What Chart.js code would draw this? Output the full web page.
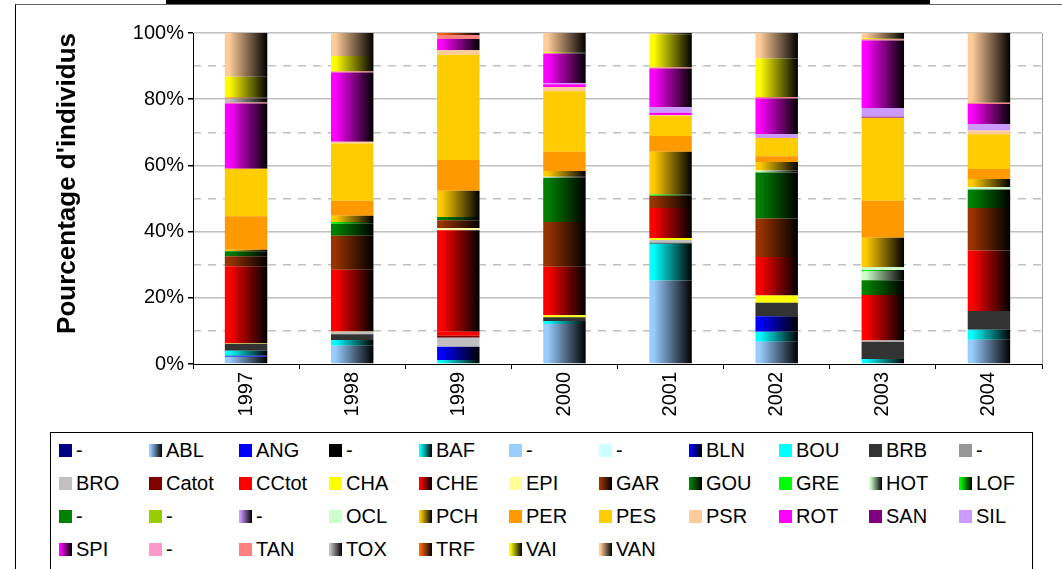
<!DOCTYPE html>
<html>
<head>
<meta charset="utf-8">
<script src="https://cdn.jsdelivr.net/npm/chart.js@4"></script>
<style>
  body { margin: 0; background: #fff; font-family: "Liberation Sans", Arial, sans-serif; }
  #wrap { position: relative; width: 1062px; height: 569px; overflow: hidden; }
  #frame { position: absolute; left: 15px; top: 4px; right: -2px; bottom: -2px; border-left: 1px solid #000; border-top: 1px solid #666; }
  #topbar { position: absolute; left: 166px; top: 0; width: 764px; height: 4px; background: #000; }
  canvas { position: absolute; left: 0; top: 0; }
  #legend { position: absolute; left: 50px; top: 432px; width: 983px; height: 150px; border: 1px solid #000; background: #fff;
            display: grid; grid-template-columns: repeat(11, 90px); grid-auto-rows: 33px; padding: 1px 0 0 8px; box-sizing: border-box; }
  .item { display: flex; align-items: center; font-size: 20px; color: #000; white-space: nowrap; }
  .sw { width: 13px; height: 13px; margin-right: 4px; flex: none; }
</style>
</head>
<body>
<div id="wrap">
  <div id="frame"></div>
  <div id="topbar"></div>
  <canvas id="chart" width="1062" height="569"></canvas>
  <div id="legend"></div>
</div>
<script>
const years = ["1997", "1998", "1999", "2000", "2001", "2002", "2003", "2004"];

const seriesNames = [
  "-", "ABL", "ANG", "-", "BAF", "-", "-", "BLN", "BOU", "BRB",
  "-", "BRO", "Catot", "CCtot", "CHA", "CHE", "EPI", "GAR", "GOU", "GRE",
  "HOT", "LOF", "-", "-", "-", "OCL", "PCH", "PER", "PES", "PSR",
  "ROT", "SAN", "SIL", "SPI", "-", "TAN", "TOX", "TRF", "VAI", "VAN"
];

const seriesColors = [
  "#000080", "#99CCFF", "#0000FF", "#000000", "#00FFFF", "#99CCFF", "#CCFFFF", "#0000FF", "#00FFFF", "#333333",
  "#969696", "#C0C0C0", "#800000", "#FF0000", "#FFFF00", "#FF0000", "#FFFF99", "#993300", "#008000", "#00FF00",
  "#CCFFCC", "#00FF00", "#008000", "#99CC00", "#CC99FF", "#CCFFCC", "#FFCC00", "#FF9900", "#FFCC00", "#FFCC99",
  "#FF00FF", "#800080", "#CC99FF", "#FF00FF", "#FF99CC", "#FF8080", "#C0C0C0", "#FF6600", "#FFFF00", "#FFCC99"
];

// series drawn with a colour-to-black shading (index into seriesNames)
const shadedIdx = [1, 4, 7, 15, 17, 18, 20, 21, 24, 26, 33, 36, 37, 38, 39];

// percentages per year, in the order of seriesNames
const pct1997 = [0, 2.2, 0.3, 0, 1.5, 0, 0, 0, 0, 2.1,
                 0, 0, 0, 0, 0.2, 23.2, 0, 3.0, 1.5, 0,
                 0, 0, 0, 0, 0, 0, 0.5, 10.1, 14.3, 0,
                 0, 0, 0, 19.7, 0, 0.3, 1.2, 0.3, 6.3, 13.2];
const pct1998 = [0, 5.5, 0, 0, 1.7, 0, 0, 0, 0, 1.8,
                 0, 0.7, 0, 0, 0.1, 18.6, 0, 10.3, 3.6, 0,
                 0, 0.5, 0, 0, 0, 0, 1.9, 4.5, 17.3, 0.5,
                 0, 0, 0, 20.9, 0, 0.3, 0, 0, 4.7, 6.9];
const pct1999 = [0, 0, 0, 0, 1.2, 0, 0, 4.0, 0, 0,
                 0, 2.7, 0.6, 1.2, 0, 30.7, 0.6, 2.4, 1.0, 0,
                 0, 0, 0, 0, 0, 0, 7.9, 9.3, 31.7, 1.4,
                 0, 0, 0, 3.4, 0, 1.2, 0, 0.6, 0, 0];
const pct2000 = [0, 12.1, 0, 0, 0.9, 0, 0, 0, 0, 1.1,
                 0, 0, 0, 0, 0.6, 14.7, 0, 13.5, 13.4, 0,
                 0.3, 0, 0, 0, 0, 0, 1.7, 5.8, 18.3, 1.3,
                 0.8, 0, 0.4, 8.9, 0, 0, 0, 0, 0.4, 5.8];
const pct2001 = [0, 25.2, 0, 0, 11.1, 0, 0, 0, 0, 0.3,
                 0, 0.9, 0, 0, 0.6, 9.0, 0, 3.7, 0, 0,
                 0, 0.4, 0, 0, 0, 0, 12.9, 4.8, 6.1, 0.2,
                 0.7, 0, 1.7, 11.7, 0, 0.3, 0, 0, 10.0, 0.4];
const pct2002 = [0, 6.7, 0, 0, 3.0, 0, 0, 4.7, 0, 4.1,
                 0, 0, 0, 0, 2.2, 11.6, 0, 11.6, 13.9, 0,
                 0.6, 0, 0, 0, 0, 0, 2.6, 1.7, 5.5, 0,
                 0, 0, 1.2, 10.7, 0, 0.5, 0, 0, 11.6, 7.7];
const pct2003 = [0, 0, 0, 0, 1.5, 0, 0, 0, 0, 5.2,
                 0, 0.4, 0, 0, 0, 13.7, 0, 0, 4.5, 0,
                 2.8, 0.3, 0, 0, 0, 0.8, 8.9, 11.2, 25.0, 0,
                 0, 0.3, 2.7, 20.3, 0, 0.4, 0, 0, 0.3, 1.6];
const pct2004 = [0, 7.3, 0, 0, 3.0, 0, 0, 0, 0, 5.7,
                 0, 0, 0, 0, 0, 18.2, 0, 12.8, 5.6, 0,
                 0, 0, 0, 0, 0, 0.7, 2.5, 3.0, 10.5, 1.1,
                 0, 0, 2.0, 6.0, 0, 0.4, 0, 0, 0, 21.0];

const yearValues = [pct1997, pct1998, pct1999, pct2000, pct2001, pct2002, pct2003, pct2004];
const barRatio = 0.4;

Chart.defaults.font.family = '"Liberation Sans", Arial, sans-serif';

function barShade(base) {
  return function (c) {
    const xs = c.chart.scales.x;
    if (!xs || c.dataIndex === undefined) return base;
    const cx = xs.getPixelForValue(c.dataIndex);
    const half = xs.width / years.length * barRatio / 2;
    if (!isFinite(cx) || !isFinite(half) || half <= 0) return base;
    const g = c.chart.ctx.createLinearGradient(cx - half, 0, cx + half, 0);
    g.addColorStop(0, base);
    g.addColorStop(0.1, base);
    g.addColorStop(1, "#000");
    return g;
  };
}

const totals = yearValues.map(v => v.reduce((a, b) => a + b, 0));

const datasets = seriesNames.map((name, i) => ({
  label: name,
  data: yearValues.map((v, k) => v[i] * 100 / totals[k]),
  backgroundColor: shadedIdx.includes(i) ? barShade(seriesColors[i]) : seriesColors[i],
  borderWidth: 0,
  barPercentage: barRatio,
  categoryPercentage: 1
}));

new Chart(document.getElementById("chart"), {
  type: "bar",
  data: { labels: years, datasets: datasets },
  options: {
    responsive: false,
    animation: false,
    layout: { padding: { left: 0, top: 33, right: 20, bottom: 145 } },
    plugins: { legend: { display: false }, tooltip: { enabled: false } },
    scales: {
      x: {
        stacked: true,
        afterFit: s => { s.height = 60; },
        grid: { offset: true, drawOnChartArea: false, tickLength: 5, tickColor: "#000" },
        border: { color: "#000", width: 1 },
        ticks: { color: "#000", font: { size: 20 }, minRotation: 90, maxRotation: 90, padding: 3 }
      },
      y: {
        stacked: true,
        min: 0,
        max: 100,
        afterFit: s => { s.width = 193; },
        ticks: { stepSize: 20, color: "#000", font: { size: 20 }, padding: 4, callback: v => v + "%" },
        grid: {
          color: c => (c.tick && c.tick.value === 0 ? "rgba(0,0,0,0)" : "#C0C0C0"),
          lineWidth: 1.5, tickLength: 5, tickColor: "#000"
        },
        border: { color: "#000", width: 1 },
        title: {
          display: true, text: "Pourcentage d'individus", color: "#000", align: "end",
          font: { size: 26, weight: "bold" }, padding: { top: 52, bottom: 0 }
        }
      },
      y2: {
        position: "right",
        min: 0,
        max: 100,
        afterFit: s => { s.width = 0; },
        ticks: { display: false, stepSize: 10 },
        grid: {
          color: c => (c.tick && c.tick.value % 20 === 0 ? "rgba(0,0,0,0)" : "#C0C0C0"),
          lineWidth: 1.5, drawTicks: false
        },
        border: { color: "#A0A0A0", width: 1, dash: [8, 7] }
      }
    }
  }
});

// legend laid out as a fixed grid like the original
const legendBox = document.getElementById("legend");
seriesNames.forEach((name, i) => {
  const item = document.createElement("div");
  item.className = "item";
  const sw = document.createElement("span");
  sw.className = "sw";
  sw.style.background = shadedIdx.includes(i)
    ? "linear-gradient(to right, " + seriesColors[i] + " 10%, #000)"
    : seriesColors[i];
  item.appendChild(sw);
  const txt = document.createElement("span");
  txt.innerText = name;
  item.appendChild(txt);
  legendBox.appendChild(item);
});
</script>
</body>
</html>
